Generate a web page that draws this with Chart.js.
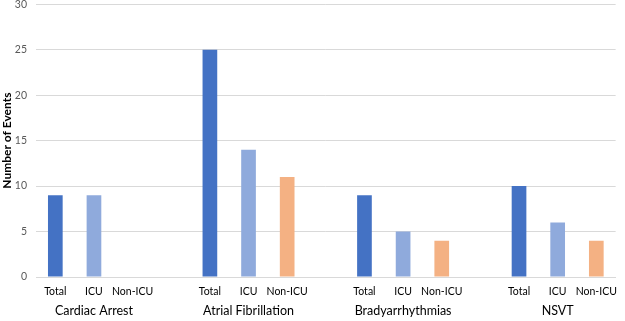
<!DOCTYPE html>
<html>
<head>
<meta charset="utf-8">
<script src="https://cdn.jsdelivr.net/npm/chart.js@4/dist/chart.umd.min.js"></script>
<style>
  html, body { margin: 0; padding: 0; background: #fff; overflow: hidden; }
  #wrap { position: absolute; left: 0; top: -11px; width: 625px; height: 332px; }
</style>
</head>
<body>
<div id="wrap"><canvas id="c"></canvas></div>
<script>
// ---- Data ----
const groups = ["Cardiac Arrest", "Atrial Fibrillation", "Bradyarrhythmias", "NSVT"];
const subCategories = ["Total", "ICU", "Non-ICU"];
const totalValues = [9, 25, 9, 10];
const icuValues = [9, 14, 5, 6];
const nonIcuValues = [0, 11, 4, 4];
const yTicks = [0, 5, 10, 15, 20, 25, 30];
const subColors = ["#4472C4", "#8FAADC", "#F4B183"];

// ---- Build slot arrays (3 bars per group, blank slot between groups) ----
const subLabels = [], groupLabels = [], values = [], colors = [];
groups.forEach((g, gi) => {
  const vals = [totalValues[gi], icuValues[gi], nonIcuValues[gi]];
  subCategories.forEach((s, si) => {
    subLabels.push(s);
    groupLabels.push(si === 1 ? g : "");
    values.push(vals[si]);
    colors.push(subColors[si]);
  });
  if (gi < groups.length - 1) {
    subLabels.push(""); groupLabels.push(""); values.push(null); colors.push("rgba(0,0,0,0)");
  }
});

const FONT = "Lato, 'Open Sans', sans-serif";

new Chart(document.getElementById("c"), {
  type: "bar",
  data: {
    labels: subLabels,
    datasets: [{
      data: values,
      backgroundColor: colors,
      borderWidth: 0,
      barPercentage: 0.38,
      categoryPercentage: 1.0
    }]
  },
  options: {
    responsive: true,
    maintainAspectRatio: false,
    animation: false,
    layout: { padding: { top: 0, right: 2, left: 0, bottom: 0 } },
    plugins: { legend: { display: false }, tooltip: { enabled: false } },
    scales: {
      x: {
        type: "category",
        position: "bottom",
        grid: { display: false, drawTicks: false },
        border: { display: true, color: "#D9D9D9", width: 1 },
        ticks: { color: "#000", font: { family: FONT, size: 10.5 }, padding: 8, maxRotation: 0, autoSkip: false },
        afterFit: (s) => { s.height = 22; }
      },
      x2: {
        type: "category",
        position: "bottom",
        labels: groupLabels,
        grid: { display: false, drawTicks: false },
        border: { display: false },
        ticks: { color: "#000", font: { family: FONT, size: 12.5 }, padding: 4, maxRotation: 0, autoSkip: false },
        afterFit: (s) => { s.height = 22; }
      },
      y: {
        min: 0, max: 30,
        afterBuildTicks: (s) => { s.ticks = yTicks.map(v => ({ value: v })); },
        grid: { color: "#D9D9D9", drawTicks: false },
        border: { display: false },
        ticks: { color: "#595959", font: { family: FONT, size: 10.5 }, padding: 9 },
        title: { display: true, text: "Number of Events", color: "#000", font: { family: FONT, size: 12, weight: "bold" }, padding: { top: 0, bottom: 2 } },
        afterFit: (s) => { s.width = 36; }
      }
    }
  }
});
</script>
</body>
</html>
